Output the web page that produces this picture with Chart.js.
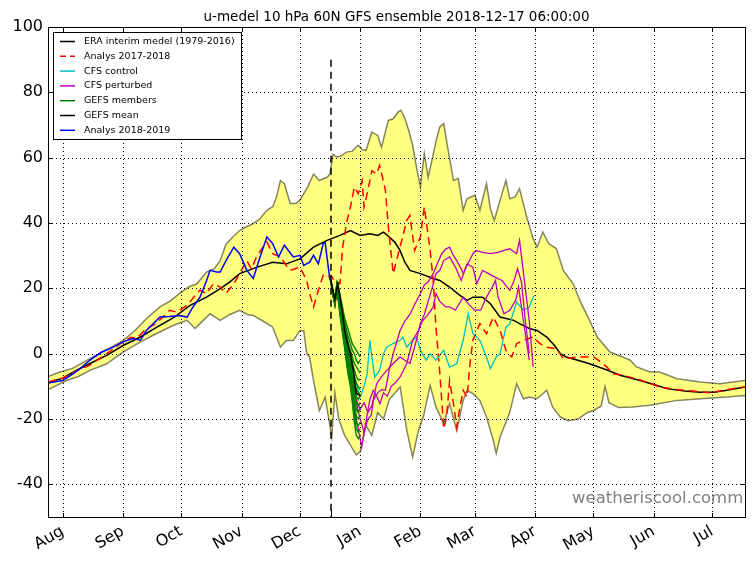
<!DOCTYPE html>
<html>
<head>
<meta charset="utf-8">
<title>u-medel 10 hPa 60N GFS ensemble</title>
<script src="https://cdn.jsdelivr.net/npm/chart.js@4.4.1/dist/chart.umd.min.js"></script>
<style>
  html, body { margin: 0; padding: 0; background: #fff; }
  canvas { display: block; }
</style>
</head>
<body>
<canvas id="chart" width="755" height="562"></canvas>
<script>
// x values are days counted from 1 Aug (2018 season), y is zonal wind in m/s

const monthDays = [0, 31, 61, 92, 122, 153, 184, 212, 243, 273, 304, 334];
const monthLabels = ['Aug', 'Sep', 'Oct', 'Nov', 'Dec', 'Jan', 'Feb', 'Mar', 'Apr', 'May', 'Jun', 'Jul'];
const yTickValues = [-40, -20, 0, 20, 40, 60, 80, 100];

const titleText = 'u-medel 10 hPa 60N GFS ensemble 2018-12-17 06:00:00';
const forecastDay = 138; // 2018-12-17

// climatology envelope (max / min)
const envelopeUpper = [
  [-7.6, -7], [-1.4, -5.6], [5, -4.5], [14, -1.5], [22, 1], [31, 4], [37, 7], [43, 10.7],
  [50, 14.3], [55, 16], [60, 18.4], [65, 20.5], [69, 21.4], [74, 25], [78, 26], [81, 28.5],
  [84, 33.5], [88, 36], [91, 37.7], [95, 39], [98, 39.8], [101, 41], [105, 43.9], [108, 45],
  [110, 48], [112, 53], [114, 52], [117, 46], [120, 46], [122, 47], [126, 51], [129, 55],
  [132, 53], [136, 54], [137.5, 55], [139, 61], [141, 60.2], [143, 60.5], [146, 61.7],
  [149, 62], [152, 63.8], [154, 62.5], [156, 62.2], [159, 67.8], [162, 66.8], [164, 63.2],
  [167.5, 71.4], [170, 71.9], [172.6, 74], [174, 74.5], [176, 72], [178, 68.3], [180, 63.8],
  [182, 57], [184, 51], [186, 61.2], [188, 54], [190.6, 61], [192, 65], [194, 69.4],
  [196, 70.4], [198, 63.2], [201, 53], [203.5, 53.6], [206, 43.9], [208, 47.4], [212, 48.5],
  [214.6, 43.9], [218, 52], [220, 44.4], [222, 40.8], [226, 49], [228, 53], [230, 47.4],
  [232.7, 48], [235, 50.5], [238.7, 41.8], [242, 35.2], [244, 32.6], [247, 37.2], [250, 33.7],
  [254, 32.1], [257.5, 25.5], [262.6, 21.4], [266, 16.3], [271, 10.2], [275, 5.1], [281.5, 0.5],
  [288, -1], [292, -2], [295, -4], [302, -5.6], [307, -5.6], [316, -7.7], [328, -8.7],
  [338, -9.2], [345, -8.7], [351, -8.2]
];

const envelopeLower = [
  [-7.6, -11], [-6.5, -10.7], [2, -8.2], [8, -7], [14, -5.1], [22.6, -3.1], [31, 0.5],
  [40, 3.6], [48, 6.1], [57, 8.7], [64, 10.2], [68, 7.7], [70.6, 9.2], [75.8, 12.2], [81, 10.2],
  [86, 12], [91, 13.3], [95, 12], [98, 11.7], [103, 10], [108, 8.1], [112, 2], [115, 4],
  [118.6, 4], [122, 7.1], [124, 7], [125.5, 0], [127, -1], [129, -8.2], [132, -17.4],
  [135, -13.3], [138.4, -25.5], [140, -12], [142, -20], [145, -25], [148, -28], [151, -31],
  [153, -30], [156, -22], [159, -25], [162, -18], [165, -20], [168, -14], [171, -12],
  [173.6, -10.2], [177, -23.5], [180, -31.6], [183, -23.5], [185.5, -19.4], [189, -9.7],
  [192, -16.3], [196, -21.4], [199, -15.3], [202.7, -23.5], [206, -14.3], [208, -11.2],
  [211, -12.2], [214.6, -14.3], [218, -19.4], [221.5, -26.5], [223, -30.5], [225, -25.5],
  [230, -17.9], [233.5, -9.2], [237, -13.8], [240, -13.3], [244, -13.8], [249, -11.2],
  [252, -16.3], [256, -19.4], [260, -20.5], [265, -20], [270, -18], [273, -17.4], [277, -16],
  [279, -10], [281, -15], [286, -16.5], [293, -16.3], [302, -15.8], [316, -14.3], [328, -13.8],
  [341.6, -13.3], [351, -12.8]
];

// ERA interim mean 1979-2016
const eraMean = [
  [-7.6, -8.8], [0, -7.5], [5.5, -5.6], [14, -3], [22.6, -0.5], [31, 2.5], [40, 5.1], [48, 8],
  [57, 11], [65.5, 14.8], [74, 17.3], [81, 19.9], [86, 22], [91, 24.5], [100, 26.5], [108, 28],
  [115, 27.5], [122, 29], [129, 32.6], [136, 34.7], [142.6, 36.2], [148, 37.7], [153, 36.2],
  [158, 36.7], [162, 36.2], [165, 37.2], [168, 35.7], [171, 34], [173.5, 31.6], [176, 28],
  [178.6, 25.5], [184, 24.5], [190.6, 23], [194, 22.4], [199, 20.4], [204, 18], [208, 16.3],
  [211, 17.3], [216, 17.3], [220, 15.3], [225, 11.2], [232, 10.2], [235, 9.2], [240, 7.7],
  [244, 7.1], [249, 5.1], [253, 2.5], [256, 0], [259, -1], [265, -2], [271, -3.1], [280, -5],
  [286.7, -6.6], [297, -8.2], [305, -9.6], [310.7, -10.7], [320, -11.4], [328, -11.8],
  [335, -11.8], [341.6, -11.2], [351, -10.2]
];

// Analys 2017-2018
const analys1718 = [
  [-7.6, -8.7], [0, -7.5], [8, -5], [14, -3.5], [22.6, 0], [31, 3.6], [35, 5], [38, 4.6],
  [43, 7.7], [48, 9.2], [55, 13.3], [58.6, 12.7], [64, 14.8], [67, 17], [70.6, 19.4], [74, 18.4],
  [77.5, 21.4], [81, 20.4], [84, 18.4], [88, 21.4], [91, 24.5], [94.7, 28.5], [97, 26], [100, 30],
  [105, 34.2], [108, 30.6], [112, 29.6], [115, 27], [117, 25.5], [122, 26.5], [125.5, 22.4],
  [127, 18.4], [129, 14.3], [131.5, 19.4], [134, 24], [136.6, 23.5], [138, 24], [140, 22],
  [142.6, 21.4], [144, 32.6], [146, 40], [148, 44.9], [150, 51], [152, 49], [154, 53],
  [155, 44.9], [157, 50], [159, 56], [161.5, 55], [163, 57.6], [164.5, 54], [166, 50],
  [167.5, 38.8], [170, 24.5], [173.5, 32.6], [177, 40.8], [178.6, 42.3], [181, 31.6],
  [184, 35.7], [186, 44.9], [189, 31.6], [190.6, 22.4], [192, 8.1], [194, -6.1], [196, -23],
  [197.5, -19.4], [199, -8.2], [201, -15.3], [202.7, -22.5], [204, -17.4], [206, -11.2],
  [208, -13.3], [209.5, -3.1], [211, 4.1], [214.6, 9.2], [218, 6.1], [221.5, 11.2], [225, 7.1],
  [228, 1], [231, -1], [233.5, 3.1], [237, 4.1], [242, 5.1], [245.5, 3.1], [249, 2],
  [254, 1.5], [257.5, -1.5], [266, -1], [273, -1], [275.5, -2], [280, -4.1], [283, -6.1],
  [288, -6.6], [295, -7.7], [302, -9], [307, -10.2], [316, -11], [324, -11.4], [333, -12],
  [341.6, -11], [351, -10.2]
];

// Analys 2018-2019
const analys1819 = [
  [-7.6, -9], [-3, -8.5], [0, -8.2], [5.5, -6.1], [10, -4], [14, -2], [20, 0.5], [26, 2],
  [31, 3.6], [36, 4.6], [40, 4.1], [43, 7.1], [46.6, 9.2], [50, 11.2], [55, 11.4], [60, 11.7],
  [64, 11.2], [67, 14.3], [70.6, 17.3], [74, 22.4], [75.8, 25.5], [79, 25], [81, 25],
  [84, 28.5], [88, 32.6], [91, 30.6], [94.7, 25.5], [98, 23], [101.5, 29.6], [105, 35.7],
  [108, 33.7], [111, 29.6], [114, 33.2], [118.6, 29.6], [122, 30.1], [124, 27], [127, 28],
  [129, 30.1], [131.5, 27.5], [134, 33.7], [135, 34], [136.6, 26.5], [137.5, 22.4]
];

// CFS control
const cfsControl = [
  [138, 22], [139, 19], [140, 16], [141, 20], [142.6, 15], [145, 6], [148, -4], [150, -10],
  [151, -9.2], [153, -13.3], [155, -10], [156.6, -6.1], [158, 4.1], [159, -1], [160.5, -7.2],
  [163, -5.1], [165, 0], [166.6, 2], [170, 3.1], [173.5, 4.1], [175, 5], [177, 2], [180, 4.1],
  [182, 5.1], [184, 1], [187, -2], [189, 0], [192, -2], [196, 1], [199, -4.1], [202.7, -3.1],
  [206, 4.1], [208.6, 12.2], [211, 6.1], [214.6, 4.1], [218, -1], [220, -4.6], [223, -1],
  [225, 0], [228, 8.1], [230, 9.2], [233.5, 15.8], [237, 13.3], [240, 14.3], [242, 17.3],
  [243, 17.9]
];

// CFS perturbed members
const cfsPert1 = [
  [138, 22], [139, 18], [140, 15], [141, 19], [142.6, 14], [145, 5], [147, -3], [149, -9],
  [151, -15], [153, -20], [155, -24], [157, -20], [158.6, -19], [160, -14], [162, -12],
  [164, -11], [166, -11.2], [168, -5], [170, 0], [173.5, 7], [176, 10], [178.6, 12], [181, 15],
  [184, 18.4], [186, 21], [188, 22], [190.6, 24.5], [193, 28], [195, 30.6], [197, 32],
  [199, 32.6], [201, 30], [202.7, 28.5], [205, 26], [206, 24.5], [208, 27], [211, 30.6],
  [212.6, 31.6], [216, 31], [220, 30.6], [224, 31], [227, 31.6], [230, 32.1], [233.5, 30.6],
  [235, 34.7], [238, 20], [240, 10], [242, -4]
];
const cfsPert2 = [
  [138, 22], [139, 18], [140, 16], [141, 20], [142.6, 14], [145, 4], [147, -4], [149, -10],
  [151, -14], [153, -17], [155, -15], [157, -18], [159, -16], [161.5, -9.2], [164, -7],
  [166.7, -5.1], [170, -3], [173.5, -1], [176, -2], [178.6, -3], [181, 2], [184, 9.2],
  [186, 12], [188, 16], [190, 20], [192, 24.5], [194, 25.5], [196, 28.5], [199, 29.6],
  [202, 26.5], [205, 22.4], [208, 27.5], [211, 26.5], [213, 21.4], [216, 25.5], [219, 24.5],
  [222, 23.5], [226, 22.4], [230, 19.4], [232, 22], [234, 26], [236, 22], [238, 10], [240, 0]
];
const cfsPert3 = [
  [138, 22], [139, 18], [140, 15], [141, 19], [142.6, 13], [145, 3], [147, -6], [149, -13],
  [151, -20], [153.8, -28.6], [155, -24], [156.4, -19.4], [158, -14], [159.8, -11.2],
  [161.5, -13], [163.2, -15.3], [165, -12], [167, -13], [169, -10], [171, -9], [173.5, -7.2],
  [177, -3], [180, 4.1], [183, 7.1], [185, 10], [188, 12], [190.6, 14.3], [192, 18.4],
  [194, 16], [197, 14.3], [199, 14.3], [202, 13.3], [206, 17.3], [209, 15], [212, 13.3],
  [215, 13.3], [218, 17.3], [221, 20.4], [222.6, 22.4], [224, 17.3], [227, 12.2], [230, 13.3],
  [233, 16.3], [234.5, 20.4], [237, 10], [240, -2]
];

// GEFS members, one value per day from 2018-12-17
const gefsDays = [138, 139, 140, 141, 142, 143, 144, 145, 146, 147, 148, 149, 150, 151, 152, 153];
const gefsMembers = [
  [22, 19, 16, 20, 20, 17, 14, 11, 9, 7, 5, 3, 2, 1, 0, -1],
  [22, 18, 16, 20, 19, 16, 13, 10, 7, 5, 3, 1, 0, -2, -3, -2],
  [22, 19, 17, 21, 19, 15, 12, 9, 6, 3, 1, -1, -3, -4, -5, -6],
  [22, 18, 15, 20, 18, 15, 11, 8, 5, 2, 0, -3, -5, -7, -8, -8],
  [22, 19, 16, 21, 18, 14, 11, 7, 4, 1, -2, -5, -7, -9, -10, -11],
  [22, 18, 16, 20, 18, 14, 10, 7, 3, 0, -3, -6, -9, -11, -12, -12],
  [22, 19, 17, 21, 17, 13, 10, 6, 2, -1, -4, -7, -10, -13, -14, -13],
  [22, 18, 15, 20, 17, 13, 9, 5, 1, -2, -5, -8, -12, -15, -16, -15],
  [22, 19, 16, 21, 17, 12, 9, 5, 1, -3, -6, -10, -14, -17, -18, -17],
  [22, 18, 16, 20, 16, 12, 8, 4, 0, -4, -7, -11, -15, -19, -20, -19],
  [22, 19, 17, 20, 16, 11, 7, 3, -1, -5, -8, -12, -17, -21, -22, -21],
  [22, 18, 15, 21, 16, 11, 7, 2, -2, -6, -9, -14, -19, -23, -24, -23],
  [22, 19, 16, 20, 15, 10, 6, 2, -3, -7, -10, -15, -21, -25, -26, -25]
];
const gefsMean = [
  [138, 22.4], [139, 19.4], [140, 16.8], [141, 19.9], [141.5, 21.4], [142.6, 17.3], [144, 12],
  [145, 7.1], [146.5, 3], [148, 0], [149.5, -5.1], [151, -12.2], [152, -12.5], [153, -12.8]
];

const forecastLine = [[forecastDay, 90], [forecastDay, -50]];

const toXY = arr => arr.map(([x, y]) => ({ x, y }));

const FONT = '"DejaVu Sans", "Liberation Sans", sans-serif';
Chart.defaults.font.family = FONT;

const EDGE = '#85855c';

const line = (data, color, extra) => Object.assign({
  data: toXY(data),
  borderColor: color,
  borderWidth: 1.3,
  pointRadius: 0,
  fill: false,
  tension: 0
}, extra || {});

const datasets = [
  // envelope: upper carries the fill down to the lower one
  line(envelopeUpper, EDGE, { fill: { target: 1 }, backgroundColor: '#ffff80', borderWidth: 1.5, order: 20 }),
  line(envelopeLower, EDGE, { borderWidth: 1.5, order: 19 }),
  line(eraMean, '#000000', { borderWidth: 1.5, order: 18 }),
  line(analys1718, '#ff0000', { borderWidth: 1.5, borderDash: [8, 5], order: 17 }),
  line(cfsControl, '#00bfbf', { order: 16 }),
  line(cfsPert1, '#bf00bf', { order: 15 }),
  line(cfsPert2, '#bf00bf', { order: 15 }),
  line(cfsPert3, '#bf00bf', { order: 15 })
];
gefsMembers.forEach(vals => {
  datasets.push(line(gefsDays.map((d, i) => [d, vals[i]]), '#008000', { borderWidth: 1.4, order: 12 }));
});
datasets.push(line(gefsMean, '#000000', { borderWidth: 1.5, order: 11 }));
datasets.push(line(analys1819, '#0000ff', { borderWidth: 1.5, order: 10 }));
datasets.push(line(forecastLine, '#000000', { borderWidth: 1.5, borderDash: [7, 5], order: 9 }));

const legendItems = [
  { label: 'ERA interim medel (1979-2016)', color: '#000000' },
  { label: 'Analys 2017-2018', color: '#ff0000', dash: [6, 4] },
  { label: 'CFS control', color: '#00bfbf' },
  { label: 'CFS perturbed', color: '#bf00bf' },
  { label: 'GEFS members', color: '#008000' },
  { label: 'GEFS mean', color: '#000000' },
  { label: 'Analys 2018-2019', color: '#0000ff' }
];

// grid, frame, inward ticks, title, legend, watermark
const decorPlugin = {
  id: 'decor',
  beforeDraw(chart) {
    const ctx = chart.ctx;
    ctx.save();
    ctx.fillStyle = '#fff';
    ctx.fillRect(0, 0, chart.width, chart.height);
    ctx.restore();
  },
  afterDatasetsDraw(chart) {
    const { ctx, chartArea: a, scales: { x, y } } = chart;
    ctx.save();

    // dotted grid
    ctx.strokeStyle = '#000';
    ctx.lineWidth = 1;
    ctx.setLineDash([1, 3]);
    monthDays.forEach(d => {
      const px = Math.round(x.getPixelForValue(d)) + 0.5;
      ctx.beginPath(); ctx.moveTo(px, a.top); ctx.lineTo(px, a.bottom); ctx.stroke();
    });
    yTickValues.forEach(v => {
      const py = Math.round(y.getPixelForValue(v)) + 0.5;
      ctx.beginPath(); ctx.moveTo(a.left, py); ctx.lineTo(a.right, py); ctx.stroke();
    });
    ctx.setLineDash([]);

    // inward ticks on all four sides
    monthDays.forEach(d => {
      const px = Math.round(x.getPixelForValue(d)) + 0.5;
      ctx.beginPath();
      ctx.moveTo(px, a.bottom); ctx.lineTo(px, a.bottom - 4);
      ctx.moveTo(px, a.top); ctx.lineTo(px, a.top + 4);
      ctx.stroke();
    });
    const fx = Math.round(x.getPixelForValue(forecastDay)) + 0.5;
    ctx.beginPath(); ctx.moveTo(fx, a.bottom); ctx.lineTo(fx, a.bottom - 8); ctx.stroke();
    yTickValues.forEach(v => {
      const py = Math.round(y.getPixelForValue(v)) + 0.5;
      ctx.beginPath();
      ctx.moveTo(a.left, py); ctx.lineTo(a.left + 4, py);
      ctx.moveTo(a.right, py); ctx.lineTo(a.right - 4, py);
      ctx.stroke();
    });

    // frame
    ctx.strokeRect(Math.round(a.left) + 0.5, Math.round(a.top) + 0.5,
      Math.round(a.right - a.left), Math.round(a.bottom - a.top));

    // watermark
    ctx.fillStyle = '#808080';
    ctx.font = '16.5px ' + FONT;
    ctx.textAlign = 'left';
    ctx.textBaseline = 'alphabetic';
    ctx.fillText('weatheriscool.comm', 572, 503);

    // legend
    const lx = 53, ly = 32, lw = 188, lh = 107;
    ctx.fillStyle = '#fff';
    ctx.fillRect(lx, ly, lw, lh);
    ctx.strokeStyle = '#000';
    ctx.lineWidth = 1;
    ctx.strokeRect(lx + 0.5, ly + 0.5, lw, lh);
    ctx.font = '9.5px ' + FONT;
    ctx.textBaseline = 'middle';
    legendItems.forEach((it, i) => {
      const cy = 41.5 + i * 14.8;
      ctx.strokeStyle = it.color;
      ctx.lineWidth = 1.5;
      ctx.setLineDash(it.dash || []);
      ctx.beginPath(); ctx.moveTo(60, cy); ctx.lineTo(75, cy); ctx.stroke();
      ctx.setLineDash([]);
      ctx.fillStyle = '#000';
      ctx.fillText(it.label, 84, cy);
    });

    // title
    ctx.fillStyle = '#000';
    ctx.font = '13.5px ' + FONT;
    ctx.textAlign = 'center';
    ctx.textBaseline = 'alphabetic';
    ctx.fillText(titleText, (a.left + a.right) / 2, 21);

    ctx.restore();
  }
};

new Chart(document.getElementById('chart'), {
  type: 'line',
  data: { datasets },
  plugins: [decorPlugin],
  options: {
    responsive: false,
    animation: false,
    events: [],
    layout: { padding: { top: 27, right: 10, left: 0, bottom: 0 } },
    plugins: {
      legend: { display: false },
      tooltip: { enabled: false },
      title: { display: false }
    },
    scales: {
      x: {
        type: 'linear',
        min: -7.6,
        max: 351,
        afterBuildTicks: s => { s.ticks = monthDays.map(v => ({ value: v })); },
        afterFit: s => { s.height = 45; },
        ticks: {
          autoSkip: false,
          minRotation: 30,
          maxRotation: 30,
          padding: 5,
          color: '#000',
          font: { size: 16 },
          callback: (v, i) => monthLabels[i]
        },
        grid: { display: false, drawTicks: false },
        border: { display: false }
      },
      y: {
        min: -50,
        max: 100,
        afterBuildTicks: s => { s.ticks = yTickValues.map(v => ({ value: v })); },
        afterFit: s => { s.width = 48; },
        ticks: {
          padding: 5,
          color: '#000',
          font: { size: 16 }
        },
        grid: { display: false, drawTicks: false },
        border: { display: false }
      }
    }
  }
});
</script>
</body>
</html>
